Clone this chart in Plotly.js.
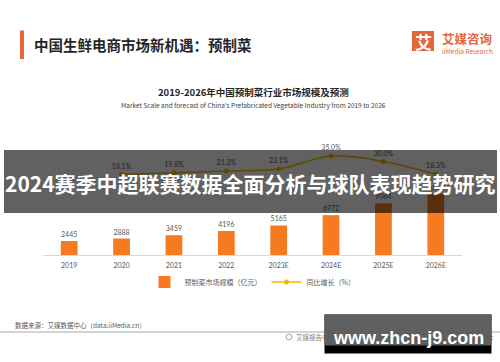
<!DOCTYPE html>
<html><head><meta charset="utf-8">
<script src="https://cdn.plot.ly/plotly-3.0.1.min.js"></script>
<style>html,body{margin:0;padding:0;background:#fff;}#chart{width:500px;height:362px;}</style>
</head><body><div id="chart"></div>
<script>
const categories = ['2019','2020','2021','2022','2023E','2024E','2025E','2026E'];
const marketSize = [2445,2888,3459,4196,5165,6972,9064,10723];
const growthRate = [null,18.1,19.8,21.3,23.1,35.0,30.0,18.3];
const seriesNames = ['预制菜市场规模（亿元）','同比增长（%）'];

const L=43, R=462, T=150, B=255;
const W=R-L, H=B-T;
const px = x => (x-L)/W;
const py = y => (B-y)/H;
const CJK = '"Noto Sans CJK SC", "Noto Sans", sans-serif';
const NUM = 'Lato, "Noto Sans", sans-serif';

const traces = [
  {
    type:'bar', x:categories, y:marketSize, name:seriesNames[0],
    marker:{color:'#F57A20'}, width:0.32,
    text:marketSize.map(String), textposition:'outside', cliponaxis:false,
    textfont:{size:7, color:'#595959', family:NUM},
    hoverinfo:'skip'
  },
  {
    type:'scatter', mode:'lines+markers+text', x:categories, y:growthRate, yaxis:'y2',
    name:seriesNames[1],
    line:{shape:'spline', color:'#F5B800', width:1.5},
    marker:{size:5, color:'#F5B800'},
    text:growthRate.map(v=>v==null?'':v.toFixed(1)+'%'), textposition:'top center',
    textfont:{size:7, color:'#595959', family:NUM},
    cliponaxis:false, connectgaps:false, hoverinfo:'skip'
  }
];

function ann(text, x, y, size, color, opts){
  return Object.assign({text:text, x:px(x), y:py(y), xref:'paper', yref:'paper',
    showarrow:false, xanchor:'center', yanchor:'middle',
    font:{size:size, color:color, family:CJK}}, opts||{});
}

const layout = {
  width:500, height:362,
  margin:{l:L, r:500-R, t:T, b:362-B, pad:0},
  paper_bgcolor:'#fff', plot_bgcolor:'rgba(0,0,0,0)',
  showlegend:true,
  legend:{orientation:'h', x:0.5, xanchor:'center', y:py(282), yanchor:'middle',
    font:{size:7, color:'#595959', family:CJK}, bgcolor:'rgba(0,0,0,0)', itemwidth:30},
  xaxis:{type:'category', showline:true, linecolor:'#d9d9d9', linewidth:1, ticks:'outside', ticklen:4, tickcolor:'rgba(0,0,0,0)',
    tickfont:{size:7, color:'#595959', family:NUM}, showgrid:false, zeroline:false, fixedrange:true},
  yaxis:{range:[0,18375], visible:false, showgrid:false, zeroline:false, fixedrange:true},
  yaxis2:{range:[-55.3,40.5], overlaying:'y', visible:false, showgrid:false, zeroline:false, fixedrange:true},
  shapes:[
    {type:'rect', xref:'paper', yref:'paper', x0:px(20), x1:px(24), y0:py(59), y1:py(30.5), fillcolor:'#E8663A', line:{width:0}},
    {type:'rect', xref:'paper', yref:'paper', x0:px(412), x1:px(434), y0:py(51), y1:py(31), fillcolor:'#E2673C', line:{width:0}},
    {type:'line', xref:'paper', yref:'paper', x0:px(0), x1:px(500), y0:py(332), y1:py(332), line:{color:'#a6a6a6', width:1}},
    {type:'circle', xref:'paper', yref:'paper', x0:px(286), x1:px(292), y0:py(340), y1:py(334), line:{color:'#8c8c8c', width:0.8}},
    {type:'rect', xref:'paper', yref:'paper', layer:'above', x0:px(4), x1:px(497), y0:py(213), y1:py(150), fillcolor:'rgba(0,0,0,0.62)', line:{width:0}}
  ],
  annotations:[
    ann('<b>中国生鲜电商市场新机遇：预制菜</b>', 32, 44.5, 14.5, '#262626', {xanchor:'left'}),
    ann('<b>艾</b>', 423, 41, 17, '#ffffff'),
    ann('<b>艾媒咨询</b>', 440, 38.5, 12.5, '#E2673C', {xanchor:'left'}),
    ann('iiMedia Research', 440, 50.5, 6.5, '#E2673C', {xanchor:'left'}),
    ann('<b>2019-2026年中国预制菜行业市场规模及预测</b>', 253, 92, 9.5, '#262626'),
    ann("Market Scale and forecast of China's Prefabricated Vegetable Industry from 2019 to 2026", 253, 105, 6.5, '#404040'),
    ann('数据来源：艾媒数据中心（data.iiMedia.cn）', 13, 325, 6.5, '#595959', {xanchor:'left'}),
    ann('艾媒报告中心: report.iimedia.cn', 294, 337, 6.5, '#7f7f7f', {xanchor:'left'}),
    ann('©2023 iiMedia Research Inc', 497, 337, 6.5, '#7f7f7f', {xanchor:'right'}),
    ann('<b>2024赛季中超联赛数据全面分析与球队表现趋势研究</b>', 250.5, 183, 21, '#ffffff'),
    ann(' ', 408, 334, 6, '#000', {width:166, height:38, bgcolor:'#000000', borderpad:0}),
    ann(' ', 408, 330, 6, '#000', {width:166, height:30, bgcolor:'#5f5f5f', borderpad:0}),
    ann('<b>www.zhcn-j9.com</b>', 408, 338, 18, '#ffffff', {font:{size:18, color:'#ffffff', family:'"Liberation Sans", Arial, sans-serif'}})
  ]
};

Plotly.newPlot('chart', traces, layout, {displayModeBar:false, staticPlot:true});
</script>
</body></html>
